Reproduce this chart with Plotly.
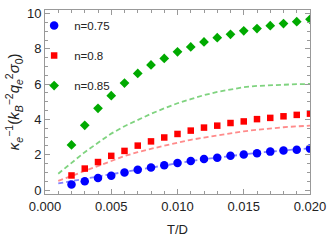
import plotly.graph_objects as go

# Data points (T/D)
x_pts = [0.002, 0.003, 0.004, 0.005, 0.006, 0.007, 0.008, 0.009, 0.010, 0.011,
         0.012, 0.013, 0.014, 0.015, 0.016, 0.017, 0.018, 0.019, 0.020]
y_n075 = [0.32, 0.50, 0.68, 0.81, 1.00, 1.15, 1.28, 1.41, 1.54, 1.65,
          1.76, 1.83, 1.94, 2.02, 2.09, 2.18, 2.24, 2.29, 2.35]
y_n080 = [0.83, 1.22, 1.59, 1.94, 2.22, 2.52, 2.76, 2.98, 3.18, 3.37,
          3.54, 3.65, 3.80, 3.89, 4.02, 4.09, 4.18, 4.26, 4.33]
y_n085 = [2.56, 3.67, 4.63, 5.35, 6.06, 6.61, 7.09, 7.46, 7.83, 8.11,
          8.39, 8.63, 8.82, 9.02, 9.15, 9.31, 9.43, 9.54, 9.67]

# Theory curves (dashed)
x_th = [0.001, 0.002, 0.003, 0.004, 0.005, 0.006, 0.007, 0.008, 0.009, 0.010,
        0.011, 0.012, 0.013, 0.014, 0.015, 0.016, 0.017, 0.018, 0.019, 0.020]
th_n075 = [0.38, 0.50, 0.63, 0.76, 0.90, 1.03, 1.16, 1.29, 1.41, 1.53,
           1.64, 1.75, 1.85, 1.95, 2.03, 2.11, 2.18, 2.25, 2.31, 2.37]
th_n080 = [0.52, 0.80, 1.10, 1.40, 1.68, 1.93, 2.15, 2.35, 2.52, 2.68,
           2.85, 2.97, 3.10, 3.22, 3.33, 3.42, 3.50, 3.56, 3.61, 3.65]
th_n085 = [0.93, 1.55, 2.15, 2.68, 3.20, 3.62, 3.98, 4.32, 4.63, 4.92,
           5.15, 5.38, 5.56, 5.71, 5.83, 5.90, 5.94, 5.97, 6.00, 6.01]

labels = ["n=0.75", "n=0.8", "n=0.85"]
x_ticks = [0.000, 0.005, 0.010, 0.015, 0.020]
x_ticklabels = ["0.000", "0.005", "0.010", "0.015", "0.020"]
y_ticks = [0, 2, 4, 6, 8, 10]

BLUE = "rgb(0,0,255)"
RED = "rgb(255,0,0)"
GREEN = "rgb(0,170,0)"
FONT = "Liberation Sans, Arial, sans-serif"

fig = go.Figure()

dash = "5px,3px"
fig.add_trace(go.Scatter(x=x_th, y=th_n075, mode="lines", showlegend=False,
                         line=dict(color="rgba(100,100,255,0.8)", width=1.8, dash=dash)))
fig.add_trace(go.Scatter(x=x_th, y=th_n080, mode="lines", showlegend=False,
                         line=dict(color="rgba(255,110,110,0.8)", width=1.8, dash=dash)))
fig.add_trace(go.Scatter(x=x_th, y=th_n085, mode="lines", showlegend=False,
                         line=dict(color="rgba(95,200,95,0.8)", width=1.8, dash=dash)))

fig.add_trace(go.Scatter(x=x_pts, y=y_n075, mode="markers", name=labels[0], legendgroup="a",
                         marker=dict(symbol="circle", size=8.5, color=BLUE)))
fig.add_trace(go.Scatter(x=x_pts, y=y_n080, mode="markers", name=labels[1], legendgroup="b",
                         marker=dict(symbol="square", size=6.5, color=RED)))
fig.add_trace(go.Scatter(x=x_pts, y=y_n085, mode="markers", name=labels[2], legendgroup="c",
                         marker=dict(symbol="diamond", size=7.5, color=GREEN)))

axis_common = dict(
    showline=True, linecolor="#999999", linewidth=1, mirror="ticks",
    ticks="inside", ticklen=5, tickcolor="#999999", tickwidth=1,
    showgrid=False, zeroline=False,
    tickfont=dict(family=FONT, size=13, color="#222222"),
)

fig.update_xaxes(range=[0, 0.020], tickvals=x_ticks, ticktext=x_ticklabels,
                 minor=dict(dtick=0.001, ticklen=3, tickcolor="#999999", ticks="inside"),
                 title=dict(text="T/D", font=dict(family=FONT, size=13, color="#222222"),
                            standoff=12),
                 **axis_common)
fig.update_yaxes(range=[-0.22, 10.2], tickvals=y_ticks,
                 minor=dict(dtick=0.5, ticklen=3, tickcolor="#999999", ticks="inside"),
                 **axis_common)

fig.add_annotation(
    xref="paper", yref="paper", x=-0.12, y=0.5, xanchor="center", yanchor="middle",
    textangle=-90, showarrow=False,
    text="<i>κ</i><sub><i>e</i></sub><sup>−1</sup>(<i>k</i><sub><i>B</i></sub><sup>−2</sup>"
         "<i>q</i><sub><i>e</i></sub><sup>2</sup><i>σ</i><sub>0</sub>)",
    font=dict(family=FONT, size=15, color="#222222"),
)

fig.update_layout(
    width=332, height=243,
    margin=dict(l=45, r=20, t=6, b=49),
    paper_bgcolor="white", plot_bgcolor="white",
    legend=dict(x=-0.041, y=0.994, xanchor="left", yanchor="top",
                bgcolor="rgba(0,0,0,0)", tracegroupgap=11,
                font=dict(family=FONT, size=11.5, color="#222222")),
)

fig.write_html(
    "out.html",
    config={"displayModeBar": False},
    post_script="document.body.style.margin='0';"
                "document.documentElement.style.overflow='hidden';",
)
